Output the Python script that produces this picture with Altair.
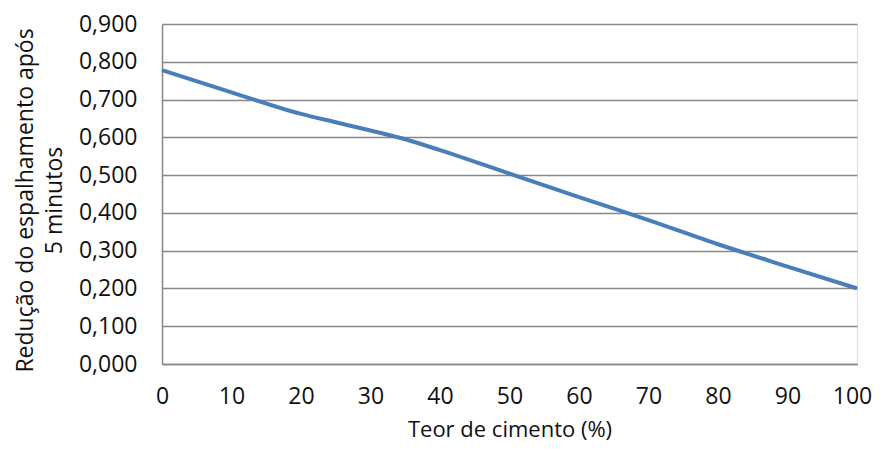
import altair as alt
import pandas as pd

teor = [0, 10, 20, 25, 30, 35, 40, 50, 60, 70, 80, 90, 100]
reducao = [0.778, 0.719, 0.662, 0.640, 0.618, 0.595, 0.566, 0.504, 0.442, 0.381, 0.317, 0.258, 0.200]

df = pd.DataFrame({"teor": teor, "reducao": reducao})

FONT = "Open Sans"
GRID = "#868686"
FS = 23

chart = alt.Chart(df).mark_line(
    color="#4A7EBB", strokeWidth=4, interpolate="monotone"
).encode(
    x=alt.X(
        "teor:Q",
        scale=alt.Scale(domain=[0, 100], nice=False),
        axis=alt.Axis(
            title="Teor de cimento (%)",
            values=list(range(0, 101, 10)),
            grid=False,
            ticks=False,
            tickSize=0,
            labelPadding=21,
            labelBaseline="top",
            labelOffset={"condition": {"test": "datum.value == 100", "value": -5}, "value": 0},
            labelFont=FONT,
            labelFontSize=FS,
            labelColor="#111111",
            titleFont=FONT,
            titleFontSize=22,
            titleFontWeight="normal",
            titleColor="#111111",
            titleBaseline="alphabetic",
            titleY=72,
            domainColor=GRID,
            domainWidth=1.5,
            labelFlush=False,
            labelOverlap=False,
        ),
    ),
    y=alt.Y(
        "reducao:Q",
        scale=alt.Scale(domain=[0, 0.9], nice=False),
        axis=alt.Axis(
            title=["Redução do espalhamento após", "5 minutos"],
            values=[0, 0.1, 0.2, 0.3, 0.4, 0.5, 0.6, 0.7, 0.8, 0.9],
            labelExpr="replace(format(datum.value, '.3f'), '.', ',')",
            grid=True,
            gridColor=GRID,
            gridWidth=1.5,
            ticks=False,
            tickSize=0,
            labelPadding=25,
            labelFont=FONT,
            labelFontSize=FS,
            labelColor="#111111",
            titleFont=FONT,
            titleFontSize=FS,
            titleFontWeight="normal",
            titleColor="#111111",
            titleAngle=-90,
            titleAlign="center",
            titleBaseline="alphabetic",
            titleLineHeight=29,
            titleX=-130,
            titleY=176,
            domainColor=GRID,
            domainWidth=1.5,
            labelFlush=False,
            labelOverlap=False,
        ),
    ),
).properties(
    width=695,
    height=340,
    autosize=alt.AutoSizeParams(type="none"),
    padding={"left": 154, "top": 16, "right": 15, "bottom": 77},
).configure_view(stroke=None).configure(background="white")

chart.save("out.html", embed_options={"renderer": "svg", "actions": False})
